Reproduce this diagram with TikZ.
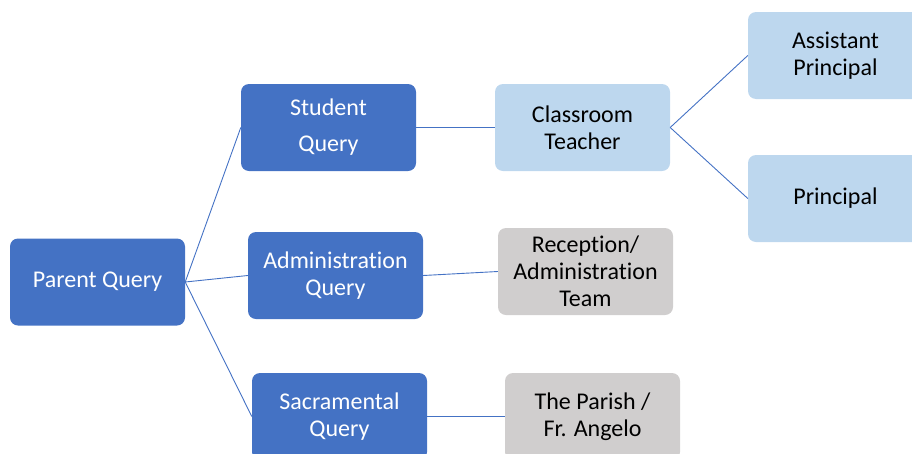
\documentclass[tikz,border=0pt]{standalone}
\usepackage{fontspec}
\setmainfont{Carlito}[Ligatures=NoCommon]
\usetikzlibrary{positioning}
\definecolor{qblue}{HTML}{4472C4}
\definecolor{lblue}{HTML}{BDD7EE}
\definecolor{qgrey}{HTML}{D0CECE}

\begin{document}
\begin{tikzpicture}[x=1pt, y=-1pt, every node/.style={font=\fontsize{24}{27}\selectfont},
		q/.style={rounded corners=8pt, minimum width=175pt, minimum height=87pt, align=center, inner sep=2pt},
		dq/.style={q, fill=qblue, text=white},
		lq/.style={q, fill=lblue},
		gq/.style={q, fill=qgrey},
		ln/.style={draw=qblue, line width=0.9pt}]
	\clip (0,0) rectangle (912,453);
	\node[dq] (pq) at (97.5,282) {Parent Query};
	\node[dq] (sq) at (328.5,127.5) {Student\\[9pt]Query};
	\node[dq] (aq) at (335.5,275.5) {Administration\\Query};
	\node[dq] (cq) at (339.5,416.5) {Sacramental\\Query};
	\node[lq] (ct) at (582.5,127.5) {Classroom\\Teacher};
	\node[gq] (rt) at (585.5,271.5) {Reception/\\Administration\\Team};
	\node[gq] (fp) at (592.5,416.5) {The Parish /\\Fr. Angelo};
	\node[lq] (ap) at (835.5,55.5) {Assistant\\Principal};
	\node[lq] (pr) at (835.5,198.5) {Principal};
	\foreach \a/\b in {pq/sq, pq/aq, pq/cq, sq/ct, aq/rt, cq/fp, ct/ap, ct/pr}
		\draw[ln] (\a.east) -- (\b.west);
\end{tikzpicture}
\end{document}
